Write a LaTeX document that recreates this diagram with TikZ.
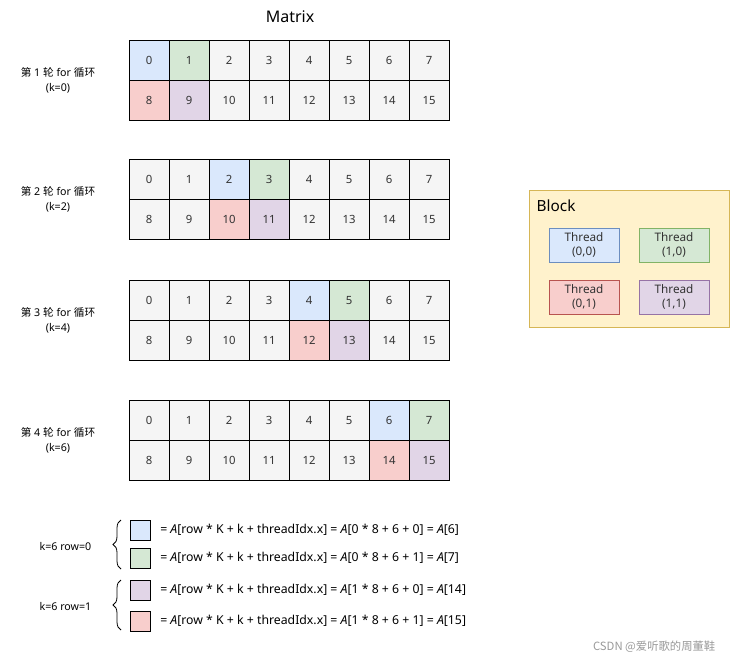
\documentclass[tikz,border=0pt]{standalone}
\usepackage{fontspec}
\setmainfont{Noto Sans}
\newfontfamily\cjk{Noto Sans CJK SC}
\usepackage{tikz}
\usetikzlibrary{positioning,calc,decorations.pathreplacing}
\usepackage{xcolor}
\definecolor{bluefill}{HTML}{DAE8FC}
\definecolor{bluedraw}{HTML}{6C8EBF}
\definecolor{greenfill}{HTML}{D5E8D4}
\definecolor{greendraw}{HTML}{82B366}
\definecolor{redfill}{HTML}{F8CECC}
\definecolor{reddraw}{HTML}{B85450}
\definecolor{purplefill}{HTML}{E1D5E7}
\definecolor{purpledraw}{HTML}{9673A6}
\definecolor{grayfill}{HTML}{F5F5F5}
\definecolor{blockfill}{HTML}{FFF2CC}
\definecolor{blockdraw}{HTML}{D6B656}
\definecolor{txtcol}{HTML}{333333}
\tikzset{
  % matrix cell
  cell/.style={rectangle, draw=black, line width=0.6pt, fill=#1, minimum width=30pt, minimum height=30pt,
               inner sep=0pt, text height=6pt, text depth=0pt, text=txtcol, font=\fontsize{8.5}{10}\selectfont},
  cell/.default={grayfill},
  % top row cells: a = threadIdx.x 0, b = threadIdx.x 1, n = untouched
  topcell-a/.style={cell=bluefill},
  topcell-b/.style={cell=greenfill},
  topcell-n/.style={cell},
  % bottom row cells
  botcell-a/.style={cell=redfill},
  botcell-b/.style={cell=purplefill},
  botcell-n/.style={cell},
  % round label on the left
  roundlabel/.style={align=center, text=black, font=\fontsize{8}{11.5}\selectfont},
  % thread box inside the block
  threadbox/.style={rectangle, draw=#1draw, fill=#1fill, line width=0.6pt, minimum width=52.5pt,
                    minimum height=25.5pt, inner sep=0pt, align=center, text=txtcol,
                    font=\fontsize{8.8}{10.5}\selectfont},
  % small legend square
  legbox/.style={rectangle, draw=black, line width=0.6pt, fill=#1, minimum size=15pt, inner sep=0pt},
  % legend formula
  formula/.style={anchor=west, inner sep=0pt, text=black, font=\fontsize{9.2}{11}\selectfont},
  % curly brace
  curly/.style={decorate, decoration={brace, amplitude=6pt}, line width=0.6pt},
}

\begin{document}
\begin{tikzpicture}[x=0.75pt, y=-0.75pt]
  \useasboundingbox (0,0) rectangle (730,661);
  \node[font=\fontsize{12}{14}\selectfont] (title) at (290,17) {Matrix};

  % four rounds of the for loop
  \foreach \r/\yy/\k in {1/40/0, 2/159/2, 3/280/4, 4/400/6} {
    \node[roundlabel] (lab\r) at (58,\yy+40) {{\cjk 第} \r{} {\cjk 轮} for {\cjk 循环}\\(k=\k)};
    \foreach \c in {0,...,7} {
      \pgfmathtruncatemacro\d{\c-\k}
      \pgfmathtruncatemacro\lo{\c+8}
      \ifnum\d=0 \def\s{a}\else\ifnum\d=1 \def\s{b}\else\def\s{n}\fi\fi
      \node[topcell-\s] (m\r-\c) at (149+40*\c,\yy+20) {\c};
      \node[botcell-\s] (m\r-\lo) at (149+40*\c,\yy+60) {\lo};
    }
  }

  % the block of 2x2 threads
  \node[rectangle, draw=blockdraw, fill=blockfill, line width=0.6pt, minimum width=150pt,
        minimum height=102.75pt, inner sep=0pt] (block) at (629,258.5) {};
  \node[anchor=west, font=\fontsize{11.5}{13}\selectfont] (blocktitle) at (532,206) {Block};
  \node[threadbox=blue] (t00) at (584,245) {Thread\\(0,0)};
  \node[threadbox=green] (t10) at (674,245) {Thread\\(1,0)};
  \node[threadbox=red] (t01) at (584,297) {Thread\\(0,1)};
  \node[threadbox=purple] (t11) at (674,297) {Thread\\(1,1)};

  % legend for k=6
  \node[legbox=bluefill] (leg1) at (140,530) {};
  \node[legbox=greenfill] (leg2) at (140,558) {};
  \node[legbox=purplefill] (leg3) at (140,590) {};
  \node[legbox=redfill] (leg4) at (140,621) {};
  \node[formula] (f1) at (160,530) {= \textit{A}[row * K + k + threadIdx.x] = \textit{A}[0 * 8 + 6 + 0] = \textit{A}[6]};
  \node[formula] (f2) at (160,558) {= \textit{A}[row * K + k + threadIdx.x] = \textit{A}[0 * 8 + 6 + 1] = \textit{A}[7]};
  \node[formula] (f3) at (160,590) {= \textit{A}[row * K + k + threadIdx.x] = \textit{A}[1 * 8 + 6 + 0] = \textit{A}[14]};
  \node[formula] (f4) at (160,621) {= \textit{A}[row * K + k + threadIdx.x] = \textit{A}[1 * 8 + 6 + 1] = \textit{A}[15]};

  \coordinate (b1top) at (121,520);
  \coordinate (b1bot) at (121,569);
  \coordinate (b2top) at (121,580);
  \coordinate (b2bot) at (121,630);
  \draw[curly] (b1bot) -- (b1top);
  \draw[curly] (b2bot) -- (b2top);
  \node[roundlabel, anchor=east] (row0) at (96,546) {k=6 row=0};
  \node[roundlabel, anchor=east] (row1) at (96,606) {k=6 row=1};

  \node[anchor=east, text=black!40, font=\cjk\fontsize{8.5}{10}\selectfont] (mark) at (720,647) {CSDN @爱听歌的周董鞋};
\end{tikzpicture}
\end{document}
